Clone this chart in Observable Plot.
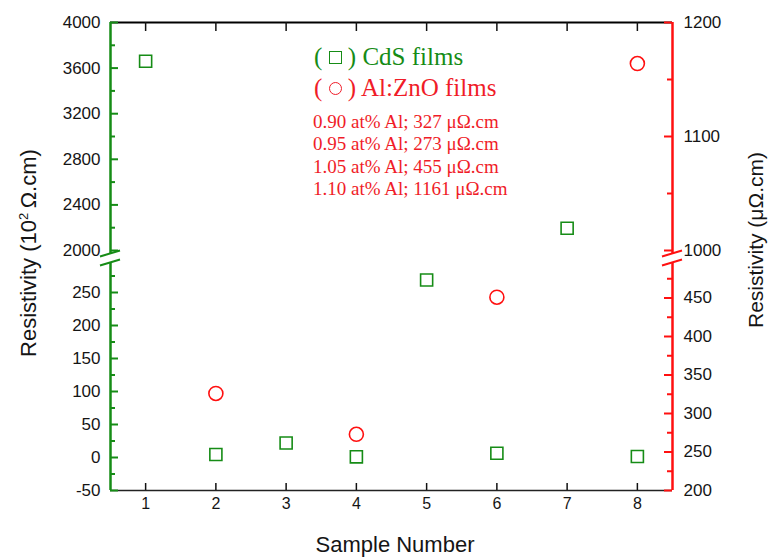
<!DOCTYPE html>
<html><head><meta charset="utf-8">
<script src="https://cdn.jsdelivr.net/npm/d3@7"></script>
<script src="https://cdn.jsdelivr.net/npm/@observablehq/plot@0.6"></script>
<style>
body{margin:0;background:#fff;}
#chart{position:relative;width:769px;height:557px;overflow:hidden;font-family:"Liberation Sans",Arial,sans-serif;background:#fff;}
#chart svg{position:absolute;left:0;top:0;}
.lbl{position:absolute;white-space:nowrap;line-height:1;}
.serif{font-family:"Liberation Serif","Times New Roman",serif;}
.sq{display:inline-block;width:11px;height:11px;border:1.7px solid currentColor;vertical-align:1px;}
.ci{display:inline-block;width:11px;height:11px;border:1.7px solid currentColor;border-radius:50%;vertical-align:1px;}
</style></head><body>
<div id="chart"></div>
<script>
// ---- data ----
const samples = [1, 2, 3, 4, 5, 6, 7, 8];
const cdsResistivity = [3660, 4.5, 22, 1, 269, 6.5, 2195, 1.5];   // 10^2 Ω.cm (left axis)
const aznoSamples = [2, 4, 6, 8];
const aznoResistivity = [326, 273, 451, 1164];                    // μΩ.cm (right axis)
const xTicks = [1, 2, 3, 4, 5, 6, 7, 8];
const xDomain = [0.5, 8.5];
const leftUpperDomain = [2000, 4000];
const leftUpperTicks = [2000, 2400, 2800, 3200, 3600, 4000];
const leftUpperMinor = [2200, 2600, 3000, 3400, 3800];
const leftLowerDomain = [-50, 300];
const leftLowerTicks = [-50, 0, 50, 100, 150, 200, 250];
const leftLowerMinor = [-25, 25, 75, 125, 175, 225, 275];
const rightUpperDomain = [1000, 1200];
const rightUpperTicks = [1000, 1100, 1200];
const rightUpperMinor = [1050, 1150];
const rightLowerDomain = [200, 500];
const rightLowerTicks = [200, 250, 300, 350, 400, 450];
const rightLowerMinor = [225, 275, 325, 375, 425, 475];
const legendCdS = "CdS films";
const legendAzno = "Al:ZnO films";
const annotations = [
  "0.90 at% Al; 327 μΩ.cm",
  "0.95 at% Al; 273 μΩ.cm",
  "1.05 at% Al; 455 μΩ.cm",
  "1.10 at% Al; 1161 μΩ.cm"
];
const xTitle = "Sample Number";

// ---- build ----
const W = 769, H = 557, ML = 110, MR = 97;
const PW = W - ML - MR;
const UT = 22, UB = 307;   // upper panel margins
const LT = 259, LB = 67;   // lower panel margins
const HU = H - UT - UB, HL = H - LT - LB;
const G = "#168c16", R = "#ff1010", TXT = "#151515";
const RT = "#f01c28";
const FONT = "'Liberation Sans', Arial, sans-serif";

const cds = samples.map((s, i) => ({s, v: cdsResistivity[i]}));
const azno = aznoSamples.map((s, i) => ({s, v: aznoResistivity[i]}));
const inDom = (dom) => (d) => d.v >= dom[0] && d.v <= dom[1];

function breakMark(side, color) {
  return (index, scales) => {
    const g = d3.create("svg:g").attr("stroke", color).attr("stroke-width", 2).attr("fill", "none");
    const x0 = scales.x(side === "left" ? xDomain[0] : xDomain[1]);
    const y0 = scales.y(side === "left" ? leftLowerDomain[1] : rightLowerDomain[1]);
    for (const c of [-5.5, 3.5]) {
      g.append("line").attr("x1", x0 - 10).attr("y1", y0 + c + 3).attr("x2", x0 + 10).attr("y2", y0 + c - 3);
    }
    return g.node();
  };
}

function panel({top, bottom, yDomain, marks}) {
  return Plot.plot({
    width: W, height: H,
    marginLeft: ML, marginRight: MR, marginTop: top, marginBottom: bottom,
    x: {domain: xDomain, axis: null},
    y: {domain: yDomain, axis: null},
    style: {background: "transparent", overflow: "visible", fontFamily: FONT},
    marks
  });
}

const lowerLeft = panel({
  top: LT, bottom: LB, yDomain: leftLowerDomain,
  marks: [
    Plot.ruleY([leftLowerDomain[0]], {stroke: "#222", strokeWidth: 1.5}),
    Plot.tickX(xTicks, {x: d => d, stroke: "#111", strokeWidth: 1.5, insetTop: HL - 7}),
    Plot.text(xTicks, {x: d => d, text: d => String(d), frameAnchor: "bottom", dy: 18, fontSize: 16, fill: TXT}),
    Plot.ruleX([xDomain[0]], {stroke: G, strokeWidth: 2.5, insetTop: 3}),
    Plot.tickY(leftLowerTicks, {y: d => d, stroke: G, strokeWidth: 2, insetRight: PW - 8}),
    Plot.tickY(leftLowerMinor, {y: d => d, stroke: G, strokeWidth: 2, insetRight: PW - 5}),
    Plot.text(leftLowerTicks, {y: d => d, text: d => String(d), frameAnchor: "left", dx: -10, textAnchor: "end", fontSize: 17, fill: TXT}),
    Plot.dot(cds.filter(inDom(leftLowerDomain)), {x: "s", y: "v", symbol: "square", r: 6.8, stroke: G, strokeWidth: 1.6, fill: "none"}),
    breakMark("left", G)
  ]
});

const lowerRight = panel({
  top: LT, bottom: LB, yDomain: rightLowerDomain,
  marks: [
    Plot.ruleX([xDomain[1]], {stroke: R, strokeWidth: 2.5, insetTop: 3}),
    Plot.tickY(rightLowerTicks, {y: d => d, stroke: R, strokeWidth: 2, insetLeft: PW - 8}),
    Plot.tickY(rightLowerMinor, {y: d => d, stroke: R, strokeWidth: 2, insetLeft: PW - 5}),
    Plot.text(rightLowerTicks, {y: d => d, text: d => String(d), frameAnchor: "right", dx: 11, textAnchor: "start", fontSize: 17, fill: TXT}),
    Plot.dot(azno.filter(inDom(rightLowerDomain)), {x: "s", y: "v", r: 7, stroke: R, strokeWidth: 1.6, fill: "none"}),
    breakMark("right", R)
  ]
});

const upperLeft = panel({
  top: UT, bottom: UB, yDomain: leftUpperDomain,
  marks: [
    Plot.ruleY([leftUpperDomain[1]], {stroke: "#000", strokeWidth: 2}),
    Plot.tickX(xTicks, {x: d => d, stroke: "#111", strokeWidth: 1.5, insetBottom: HU - 9}),
    Plot.ruleX([xDomain[0]], {stroke: G, strokeWidth: 2.5, insetBottom: -3}),
    Plot.tickY(leftUpperTicks, {y: d => d, stroke: G, strokeWidth: 2, insetRight: PW - 8}),
    Plot.tickY(leftUpperMinor, {y: d => d, stroke: G, strokeWidth: 2, insetRight: PW - 5}),
    Plot.text(leftUpperTicks, {y: d => d, text: d => String(d), frameAnchor: "left", dx: -10, textAnchor: "end", fontSize: 17, fill: TXT}),
    Plot.dot(cds.filter(inDom(leftUpperDomain)), {x: "s", y: "v", symbol: "square", r: 6.8, stroke: G, strokeWidth: 1.6, fill: "none"})
  ]
});

const upperRight = panel({
  top: UT, bottom: UB, yDomain: rightUpperDomain,
  marks: [
    Plot.ruleX([xDomain[1]], {stroke: R, strokeWidth: 2.5, insetBottom: -3}),
    Plot.tickY(rightUpperTicks, {y: d => d, stroke: R, strokeWidth: 2, insetLeft: PW - 8}),
    Plot.tickY(rightUpperMinor, {y: d => d, stroke: R, strokeWidth: 2, insetLeft: PW - 5}),
    Plot.text(rightUpperTicks, {y: d => d, text: d => String(d), frameAnchor: "right", dx: 11, textAnchor: "start", fontSize: 17, fill: TXT}),
    Plot.dot(azno.filter(inDom(rightUpperDomain)), {x: "s", y: "v", r: 7, stroke: R, strokeWidth: 1.6, fill: "none"})
  ]
});

const chart = document.getElementById("chart");
for (const p of [lowerLeft, lowerRight, upperLeft, upperRight]) chart.appendChild(p);

function addLabel(html, css, cls = "lbl") {
  const d = document.createElement("div");
  d.className = cls;
  d.innerHTML = html;
  Object.assign(d.style, css);
  chart.appendChild(d);
  return d;
}

// axis titles
addLabel("Resistivity (10<sup style='font-size:13px;vertical-align:8px'>2</sup>&#8201;Ω.cm)", {left: "28px", top: "253px", fontSize: "22px", color: TXT, transform: "translate(-50%,-50%) rotate(-90deg)"});
addLabel("Resistivity (μΩ.cm)", {left: "755px", top: "240px", fontSize: "21px", color: TXT, transform: "translate(-50%,-50%) rotate(-90deg)"});
addLabel(xTitle, {left: "395px", top: "545px", fontSize: "22px", color: TXT, transform: "translate(-50%,-50%)"});

// legend
addLabel("( <span class='sq'></span> ) " + legendCdS, {left: "314px", top: "44px", fontSize: "25px", color: G}, "lbl serif");
addLabel("( <span class='ci'></span> ) " + legendAzno, {left: "314px", top: "75px", fontSize: "25px", color: RT}, "lbl serif");
annotations.forEach((t, i) => {
  addLabel(t, {left: "313px", top: (112 + i * 22.3) + "px", fontSize: "19px", color: RT}, "lbl serif");
});
</script>
</body></html>
